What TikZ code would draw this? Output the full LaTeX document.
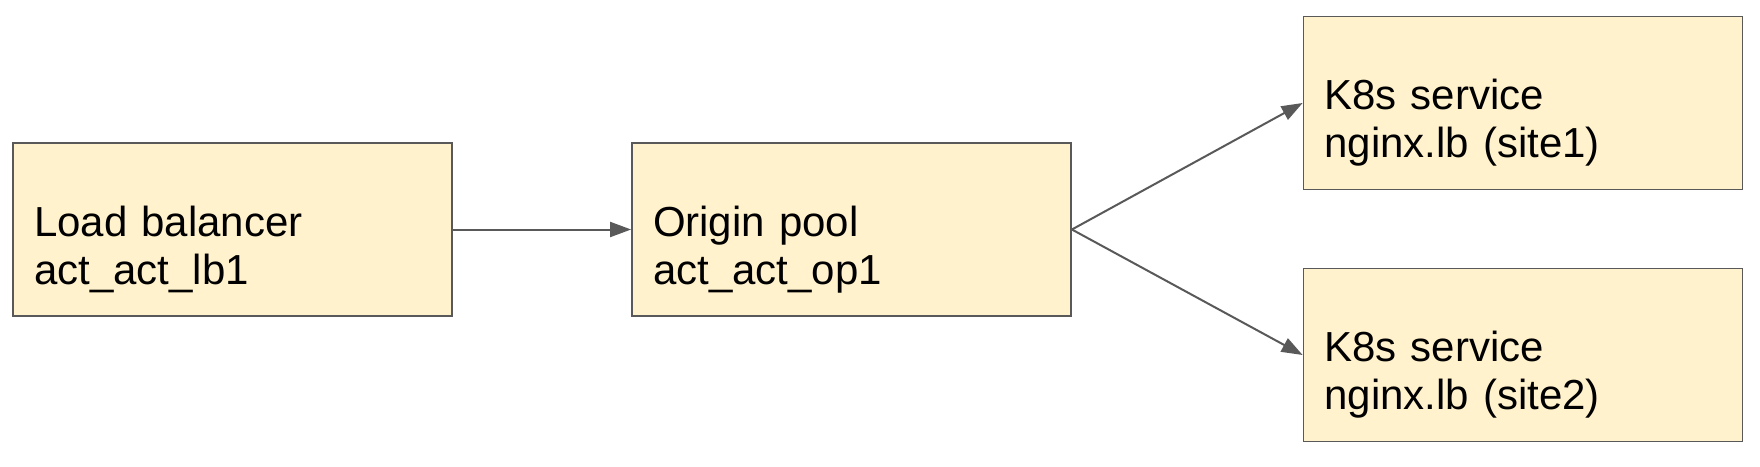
\documentclass[tikz,border=0pt]{standalone}
\usepackage{fontspec}
\setmainfont{Liberation Sans}
\usetikzlibrary{arrows.meta}
\definecolor{boxfill}{HTML}{FFF2CC}
\definecolor{boxline}{HTML}{595959}
\begin{document}
\begin{tikzpicture}[x=1pt,y=1pt,
		svcbox/.style={draw=boxline,line width=0.9pt,fill=boxfill,minimum width=219.5pt,minimum height=86.5pt,inner xsep=10.5pt,text width=198.5pt,align=left,text height=20pt,text depth=13.2pt,font=\fontsize{21}{24}\selectfont},
		link/.style={draw=boxline,line width=1pt,-{Triangle[length=10.5pt,width=7.5pt]}}]
			\useasboundingbox (0,0) rectangle (880,-233);
			\node[svcbox] (lb) at (116.25,-114.75) {Load balancer\\act\_act\_lb1};
			\node[svcbox] (op) at (425.75,-114.75) {Origin pool\\act\_act\_op1};
			\node[svcbox] (site1) at (761.5,-51.5) {K8s service\\nginx.lb (site1)};
			\node[svcbox] (site2) at (761.5,-177.5) {K8s service\\nginx.lb (site2)};
			\draw[link] (lb) -- (op);
			\draw[link] (op.east) -- (site1.west);
			\draw[link] (op.east) -- (site2.west);
		\end{tikzpicture}
\end{document}
